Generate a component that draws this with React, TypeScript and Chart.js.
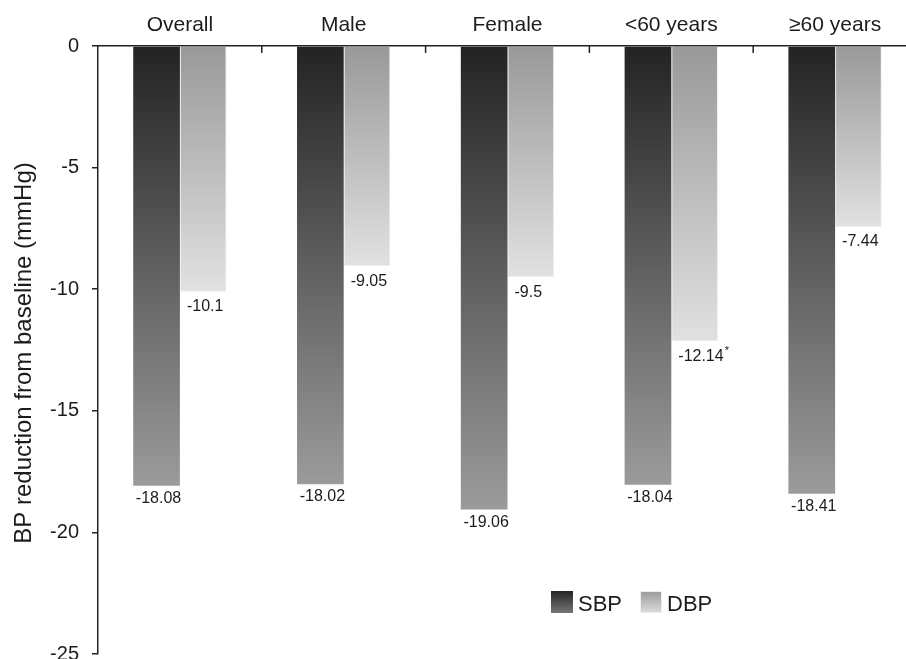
import React, { useEffect, useRef } from "react";
import { Chart, registerables } from "chart.js";

Chart.register(...registerables);

const categories = ["Overall", "Male", "Female", "<60 years", "≥60 years"];
const seriesNames = ["SBP", "DBP"];
const sbpValues = [-18.08, -18.02, -19.06, -18.04, -18.41];
const dbpValues = [-10.1, -9.05, -9.5, -12.14, -7.44];
const sbpMarks = ["", "", "", "", ""];
const dbpMarks = ["", "", "", "*", ""];
const yTicks = [0, -5, -10, -15, -20, -25];
const yTitle = "BP reduction from baseline (mmHg)";

const FONT = "'Liberation Sans', Arial, Helvetica, sans-serif";
const TEXT = "#1c1c1c";
const AXIS = "#222222";

const SBP_TOP = "#232323";
const SBP_BOTTOM = "#9b9b9b";
const DBP_TOP = "#999999";
const DBP_BOTTOM = "#e1e1e1";

function barGradient(top: string, bottom: string) {
  return (c: any) => {
    const chart = c.chart;
    const y = chart.scales && chart.scales.y;
    if (!chart.chartArea || !y || c.type !== "data") return bottom;
    const y0 = y.getPixelForValue(0);
    const y1 = y.getPixelForValue(c.raw as number);
    if (!isFinite(y0) || !isFinite(y1) || y0 === y1) return bottom;
    const g = chart.ctx.createLinearGradient(0, y0, 0, y1);
    g.addColorStop(0, top);
    g.addColorStop(1, bottom);
    return g;
  };
}

const decorPlugin = {
  id: "decor",
  afterDatasetsDraw(chart: any) {
    const ctx = chart.ctx;
    ctx.save();
    ctx.fillStyle = TEXT;
    ctx.textBaseline = "alphabetic";
    chart.data.datasets.forEach((ds: any, di: number) => {
      const meta = chart.getDatasetMeta(di);
      const marks = di === 0 ? sbpMarks : dbpMarks;
      meta.data.forEach((el: any, i: number) => {
        const v = ds.data[i] as number;
        const txt = String(v);
        ctx.font = `16px ${FONT}`;
        const w = ctx.measureText(txt).width;
        const left = el.x - el.width / 2;
        let x: number;
        let y: number;
        if (di === 0) {
          x = el.x + 2 - w / 2;
          y = el.y + 17;
        } else {
          x = left + 7;
          y = el.y + 19.5;
        }
        ctx.textAlign = "left";
        ctx.fillText(txt, x, y);
        if (marks[i]) {
          ctx.font = `11px ${FONT}`;
          ctx.fillText(marks[i], x + w + 1, y - 7);
        }
      });
    });
    ctx.restore();
  },
  afterDraw(chart: any) {
    const { ctx, chartArea, scales } = chart;
    const xs = scales.x;
    ctx.save();
    // inner tick marks at category boundaries on the top axis
    ctx.strokeStyle = AXIS;
    ctx.lineWidth = 1.5;
    for (let i = 1; i < categories.length; i++) {
      const px = (xs.getPixelForValue(i - 1) + xs.getPixelForValue(i)) / 2;
      ctx.beginPath();
      ctx.moveTo(px, chartArea.top);
      ctx.lineTo(px, chartArea.top + 7);
      ctx.stroke();
    }
    // y-axis title
    ctx.fillStyle = TEXT;
    ctx.font = `24px ${FONT}`;
    ctx.textAlign = "center";
    ctx.textBaseline = "middle";
    ctx.translate(24, (chartArea.top + chartArea.bottom) / 2 + 3);
    ctx.rotate(-Math.PI / 2);
    ctx.fillText(yTitle, 0, 0);
    ctx.restore();

    // legend inside plot area
    ctx.save();
    const lx = 551;
    const ly = 591;
    const box = 22;
    const items = [
      { name: seriesNames[0], top: SBP_TOP, bottom: "#777777", border: null as string | null, x: lx },
      { name: seriesNames[1], top: DBP_TOP, bottom: "#dddddd", border: "#eeeeee", x: lx + 89 },
    ];
    items.forEach((it) => {
      const g = ctx.createLinearGradient(0, ly, 0, ly + box);
      g.addColorStop(0, it.top);
      g.addColorStop(1, it.bottom);
      ctx.fillStyle = g;
      ctx.fillRect(it.x, ly, box, box);
      if (it.border) {
        ctx.strokeStyle = it.border;
        ctx.lineWidth = 1;
        ctx.strokeRect(it.x + 0.5, ly + 0.5, box - 1, box - 1);
      }
      ctx.fillStyle = TEXT;
      ctx.font = `22px ${FONT}`;
      ctx.textAlign = "left";
      ctx.textBaseline = "alphabetic";
      ctx.fillText(it.name, it.x + box + 5, ly + 20);
    });
    ctx.restore();
  },
};

export default function App() {
  const canvasRef = useRef<HTMLCanvasElement | null>(null);

  useEffect(() => {
    const canvas = canvasRef.current;
    if (!canvas) return;
    const chart = new Chart(canvas, {
      type: "bar",
      data: {
        labels: categories,
        datasets: [
          {
            label: seriesNames[0],
            data: sbpValues,
            backgroundColor: barGradient(SBP_TOP, SBP_BOTTOM) as any,
            borderWidth: 0,
            barPercentage: 1,
            categoryPercentage: 0.57,
          },
          {
            label: seriesNames[1],
            data: dbpValues,
            backgroundColor: barGradient(DBP_TOP, DBP_BOTTOM) as any,
            borderColor: "#efefef",
            borderWidth: 1,
            barPercentage: 1,
            categoryPercentage: 0.57,
          },
        ],
      },
      options: {
        animation: false,
        responsive: false,
        devicePixelRatio: 1,
        layout: { padding: { left: 0, top: 0, right: 13, bottom: 12 } },
        plugins: {
          legend: { display: false },
          tooltip: { enabled: false },
          title: { display: false },
        },
        scales: {
          x: {
            type: "category",
            position: "top",
            offset: true,
            z: 1,
            grid: { display: false, drawTicks: false },
            border: { display: true, color: AXIS, width: 1.5 },
            ticks: {
              color: TEXT,
              font: { family: FONT, size: 21 },
              padding: 8,
              maxRotation: 0,
              autoSkip: false,
            },
            afterFit: (s: any) => {
              s.height = 46;
            },
          },
          y: {
            type: "linear",
            min: -25,
            max: 0,
            grid: {
              display: true,
              drawOnChartArea: false,
              drawTicks: true,
              tickLength: 6,
              color: AXIS,
              lineWidth: 1.5,
            },
            border: { display: true, color: AXIS, width: 1.5 },
            ticks: {
              color: TEXT,
              font: { family: FONT, size: 20 },
              padding: 13,
            },
            afterBuildTicks: (s: any) => {
              s.ticks = yTicks.map((v) => ({ value: v }));
            },
            afterFit: (s: any) => {
              s.width = 98;
            },
          },
        },
      },
      plugins: [decorPlugin],
    });
    return () => chart.destroy();
  }, []);

  return (
    <div
      style={{
        position: "fixed",
        left: 0,
        top: 0,
        width: 906,
        height: 659,
        overflow: "hidden",
        background: "#ffffff",
      }}
    >
      <canvas ref={canvasRef} width={930} height={679} style={{ display: "block" }} />
    </div>
  );
}
